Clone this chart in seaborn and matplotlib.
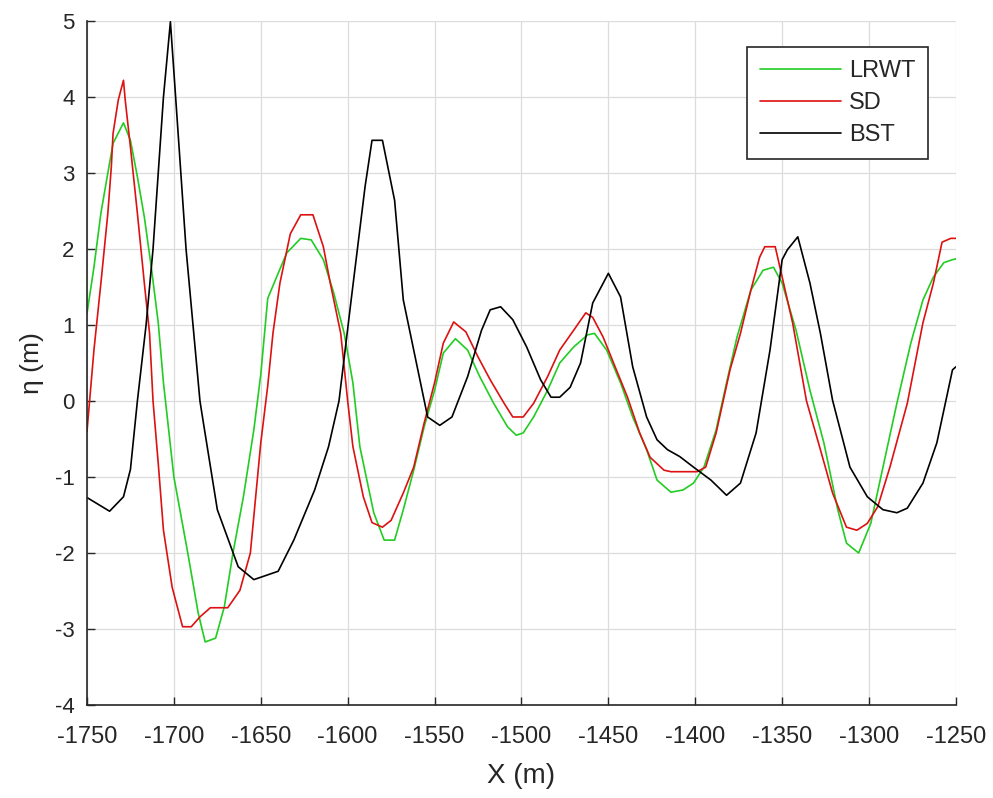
import numpy as np
import pandas as pd
import matplotlib
matplotlib.use("Agg")
import matplotlib.pyplot as plt
import seaborn as sns

# ---- data ----
series_names = ["LRWT", "SD", "BST"]
series_colors = ["#22cc22", "#dd1111", "#000000"]

lrwt_x = [-1750, -1746, -1742, -1738, -1735, -1729, -1725, -1721, -1717, -1713, -1709, -1706,
          -1700, -1692, -1686, -1682, -1676, -1671, -1666, -1660, -1654, -1650, -1646, -1640,
          -1635, -1627, -1621, -1614, -1608, -1602, -1597, -1593, -1585, -1579, -1573, -1568,
          -1562, -1556, -1550, -1545, -1538, -1531, -1524, -1516, -1508, -1503, -1499, -1493,
          -1485, -1478, -1470, -1462, -1458, -1451, -1443, -1436, -1428, -1422, -1414, -1407,
          -1401, -1395, -1388, -1382, -1376, -1368, -1361, -1355, -1350, -1342, -1334, -1326,
          -1318, -1313, -1306, -1299, -1292, -1284, -1276, -1269, -1263, -1257, -1252, -1250]
lrwt_y = [1.15, 1.76, 2.47, 3.00, 3.39, 3.66, 3.43, 2.95, 2.42, 1.76, 1.03, 0.24,
          -1.00, -2.00, -2.79, -3.17, -3.12, -2.71, -2.00, -1.26, -0.38, 0.35, 1.35, 1.68,
          1.95, 2.14, 2.12, 1.86, 1.42, 0.89, 0.24, -0.60, -1.47, -1.83, -1.83, -1.43,
          -0.91, -0.34, 0.14, 0.63, 0.82, 0.67, 0.32, -0.03, -0.34, -0.45, -0.42, -0.21,
          0.14, 0.50, 0.71, 0.87, 0.89, 0.67, 0.24, -0.21, -0.64, -1.04, -1.20, -1.17,
          -1.08, -0.87, -0.38, 0.24, 0.84, 1.46, 1.72, 1.76, 1.55, 0.93, 0.14, -0.55,
          -1.43, -1.87, -2.00, -1.61, -0.87, -0.03, 0.76, 1.33, 1.63, 1.82, 1.86, 1.87]

sd_x = [-1750, -1746, -1742, -1738, -1736, -1735, -1732, -1729, -1728, -1725, -1721, -1717,
        -1714, -1712, -1709, -1706, -1701, -1695, -1690, -1685, -1679, -1669, -1662, -1656,
        -1650, -1646, -1643, -1639, -1633, -1627, -1620, -1614, -1610, -1604, -1600, -1597,
        -1591, -1586, -1580, -1575, -1568, -1562, -1556, -1550, -1545, -1539, -1532, -1525,
        -1518, -1510, -1505, -1499, -1493, -1485, -1478, -1470, -1463, -1459, -1453, -1447,
        -1439, -1432, -1426, -1418, -1414, -1399, -1394, -1388, -1380, -1374, -1368, -1363,
        -1360, -1354, -1350, -1344, -1336, -1328, -1321, -1313, -1307, -1301, -1295, -1288,
        -1278, -1269, -1263, -1258, -1253, -1250]
sd_y = [-0.40, 0.67, 1.55, 2.47, 3.08, 3.52, 3.96, 4.22, 3.96, 3.34, 2.47, 1.55,
        0.89, 0.00, -0.82, -1.70, -2.45, -2.97, -2.97, -2.84, -2.72, -2.72, -2.49, -2.00,
        -0.55, 0.20, 0.89, 1.55, 2.20, 2.45, 2.45, 2.03, 1.55, 0.89, 0.00, -0.60,
        -1.26, -1.60, -1.66, -1.57, -1.21, -0.87, -0.29, 0.24, 0.76, 1.04, 0.91, 0.58,
        0.28, -0.03, -0.21, -0.21, -0.03, 0.32, 0.67, 0.93, 1.16, 1.10, 0.84, 0.50,
        0.05, -0.42, -0.74, -0.91, -0.93, -0.93, -0.87, -0.42, 0.41, 0.89, 1.46, 1.89,
        2.03, 2.03, 1.63, 1.03, 0.00, -0.64, -1.21, -1.66, -1.70, -1.61, -1.39, -0.87,
        -0.03, 1.03, 1.55, 2.09, 2.14, 2.14]

bst_x = [-1750, -1737, -1729, -1725, -1721, -1716, -1712, -1709, -1706, -1702, -1699, -1696,
         -1693, -1689, -1685, -1683, -1675, -1663, -1654, -1640, -1631, -1619, -1611, -1605,
         -1598, -1590, -1586, -1580, -1573, -1568, -1560, -1554, -1547, -1540, -1531, -1523,
         -1518, -1512, -1505, -1497, -1489, -1483, -1478, -1472, -1466, -1459, -1450, -1443,
         -1436, -1428, -1422, -1416, -1409, -1401, -1391, -1382, -1374, -1365, -1357, -1350,
         -1347, -1341, -1334, -1328, -1321, -1311, -1301, -1292, -1284, -1278, -1269, -1261,
         -1252, -1250]
bst_y = [-1.27, -1.45, -1.26, -0.90, 0.00, 1.00, 2.00, 3.00, 4.00, 4.99, 4.00, 3.00,
         2.00, 1.00, 0.00, -0.29, -1.43, -2.18, -2.35, -2.24, -1.83, -1.17, -0.60, 0.00,
         1.33, 2.82, 3.43, 3.43, 2.64, 1.33, 0.45, -0.21, -0.32, -0.21, 0.32, 0.93,
         1.20, 1.24, 1.07, 0.71, 0.28, 0.05, 0.05, 0.18, 0.50, 1.29, 1.68, 1.37,
         0.45, -0.21, -0.51, -0.64, -0.73, -0.87, -1.04, -1.24, -1.08, -0.42, 0.67, 1.86,
         1.99, 2.16, 1.55, 0.89, 0.01, -0.87, -1.26, -1.43, -1.47, -1.41, -1.08, -0.55,
         0.41, 0.45]

x_ticks = [-1750, -1700, -1650, -1600, -1550, -1500, -1450, -1400, -1350, -1300, -1250]
y_ticks = [-4, -3, -2, -1, 0, 1, 2, 3, 4, 5]

# ---- build long table ----
frames = []
for name, xs, ys in zip(series_names, [lrwt_x, sd_x, bst_x], [lrwt_y, sd_y, bst_y]):
    frames.append(pd.DataFrame({"x": xs, "eta": ys, "series": name}))
df = pd.concat(frames, ignore_index=True)

sns.set_theme(style="whitegrid")
plt.rcParams["font.family"] = ["Liberation Sans", "DejaVu Sans"]
plt.rcParams["axes.unicode_minus"] = False

fig = plt.figure(figsize=(9.93, 7.98), dpi=100)
ax = fig.add_axes([0.0876, 0.1165, 0.8751, 0.8572])

sns.lineplot(data=df, x="x", y="eta", hue="series", hue_order=series_names,
             palette=dict(zip(series_names, series_colors)), estimator=None,
             sort=False, linewidth=1.2, ax=ax)

ax.set_xlim(-1750, -1250)
ax.set_ylim(-4, 5)
ax.set_xticks(x_ticks)
ax.set_yticks(y_ticks)
ax.set_facecolor("white")
ax.grid(True, color="#dcdcdc", linewidth=0.9)
for s in ["top", "right"]:
    ax.spines[s].set_visible(False)
for s in ["left", "bottom"]:
    ax.spines[s].set_color("#262626")
    ax.spines[s].set_linewidth(1.2)
ax.tick_params(axis="both", direction="in", length=6, width=1, colors="#262626",
               labelcolor="#262626", bottom=True, left=True)
ax.tick_params(axis="x", labelsize=17, pad=15)
ax.tick_params(axis="y", labelsize=16, pad=9)
ax.set_xlabel("X (m)", fontsize=20, color="#262626", labelpad=11)
ax.set_ylabel("η (m)", fontsize=19, color="#262626", labelpad=8)

leg = ax.legend(loc="upper right", bbox_to_anchor=(0.968, 0.962), borderaxespad=0,
                fontsize=17, frameon=True, fancybox=False, edgecolor="#262626",
                framealpha=1, handlelength=3.4, handletextpad=0.35,
                borderpad=0.55, labelspacing=0.42)
leg.get_frame().set_linewidth(1.2)
leg.set_title(None)

fig.savefig("out.png", dpi=100)
